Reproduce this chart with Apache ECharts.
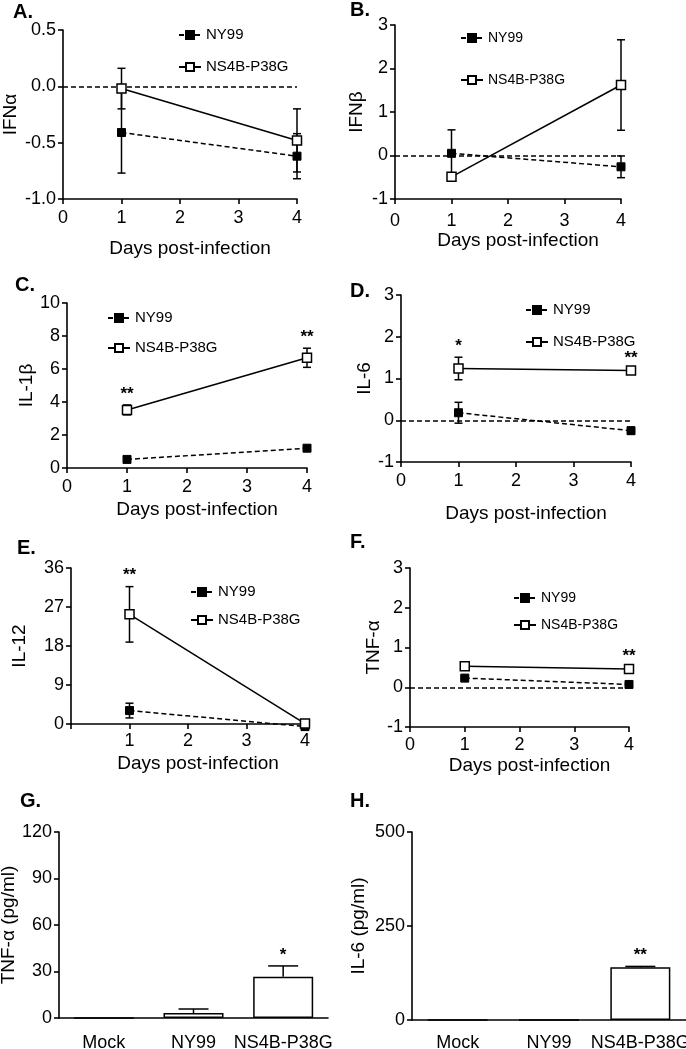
<!DOCTYPE html>
<html>
<head>
<meta charset="utf-8">
<script src="https://cdn.jsdelivr.net/npm/echarts@6/dist/echarts.min.js"></script>
<style>
html,body{margin:0;padding:0;background:#fff;}
#chart{width:686px;height:1049px;}
</style>
</head>
<body>
<div id="chart"></div>
<script>
// ---------- data ----------
const days = [1, 4];

const A_NY99 = [-0.41, -0.62];   const A_NY99_err = [0.36, 0.20];
const A_NS4B = [-0.02, -0.48];   const A_NS4B_err = [0.18, 0.28];

const B_NY99 = [0.05, -0.26];    const B_NY99_err = [0.54, 0.25];
const B_NS4B = [-0.49, 1.62];    const B_NS4B_err = [0.05, 1.04];

const C_NY99 = [0.52, 1.20];     const C_NY99_err = [0.05, 0.08];
const C_NS4B = [3.52, 6.68];     const C_NS4B_err = [0.30, 0.58];
const C_sig = ['**', '**'];

const D_NY99 = [0.18, -0.25];    const D_NY99_err = [0.25, 0.08];
const D_NS4B = [1.24, 1.19];     const D_NS4B_err = [0.27, 0.04];
const D_sig = ['*', '**'];

const E_NY99 = [3.1, -0.6];      const E_NY99_err = [1.7, 0.3];
const E_NS4B = [25.3, 0.1];      const E_NS4B_err = [6.4, 0.2];
const E_sig = ['**', ''];

const F_NY99 = [0.23, 0.07];     const F_NY99_err = [0.02, 0.02];
const F_NS4B = [0.53, 0.46];     const F_NS4B_err = [0.02, 0.03];
const F_sig = ['', '**'];

const barCats = ['Mock', 'NY99', 'NS4B-P38G'];
const G_vals = [0, 3.2, 26.6];   const G_err = [0, 2.6, 7.0];   const G_sig = ['', '', '*'];
const H_vals = [0, 0, 140];      const H_err = [0, 0, 2.5];     const H_sig = ['', '', '**'];

const panelLetters = ['A.', 'B.', 'C.', 'D.', 'E.', 'F.', 'G.', 'H.'];

// ---------- helpers ----------
const FONT = "'Liberation Sans', Arial, sans-serif";
const BLACK = '#000';
const axisLineStyle = { color: BLACK, width: 1.6 };

function errRender(capHalf, sig, upOnly) {
  return function (params, api) {
    const x = api.value(0), y = api.value(1), e = api.value(2);
    const c = api.coord([x, y]);
    const t = api.coord([x, y + e]);
    const b = upOnly ? c : api.coord([x, y - e]);
    const st = { stroke: BLACK, lineWidth: 1.5 };
    const children = [];
    if (e > 0) {
      children.push({ type: 'line', shape: { x1: t[0], y1: t[1], x2: b[0], y2: b[1] }, style: st });
      children.push({ type: 'line', shape: { x1: t[0] - capHalf, y1: t[1], x2: t[0] + capHalf, y2: t[1] }, style: st });
      if (!upOnly) children.push({ type: 'line', shape: { x1: b[0] - capHalf, y1: b[1], x2: b[0] + capHalf, y2: b[1] }, style: st });
    }
    const s = sig ? sig[params.dataIndex] : '';
    if (s) {
      children.push({ type: 'text', style: { text: s, x: c[0], y: t[1] - 11, align: 'center', verticalAlign: 'middle',
        font: 'bold 17px ' + FONT, fill: BLACK } });
    }
    return { type: 'group', children: children };
  };
}

function zip3(xs, ys, es) { return xs.map((x, i) => [x, ys[i], es[i]]); }

const grids = [], xAxes = [], yAxes = [], series = [], legends = [], graphics = [];

function makeGrid(g) {
  return { left: g[0], top: g[1], width: g[2], height: g[3], containLabel: false, outerBoundsMode: 'none' };
}

function addLinePanel(cfg) {
  const gi = grids.length;
  grids.push(makeGrid(cfg.grid));
  xAxes.push({
    gridIndex: gi, type: 'value', min: 0, max: 4, interval: 1,
    axisLine: { show: true, onZero: false, lineStyle: axisLineStyle },
    axisTick: { show: true, length: 5, lineStyle: axisLineStyle },
    axisLabel: { fontSize: 18, color: BLACK, fontFamily: FONT, margin: cfg.xLabMargin,
      formatter: cfg.hideX0 ? (v => v === 0 ? '' : String(v)) : (v => String(v)) },
    splitLine: { show: false },
    name: 'Days post-infection', nameLocation: 'middle', nameGap: cfg.xNameGap,
    nameTextStyle: { fontSize: 19, color: BLACK, fontFamily: FONT, padding: [0, 0, 0, 20] }
  });
  yAxes.push({
    gridIndex: gi, type: 'value', min: cfg.y[0], max: cfg.y[1], interval: cfg.y[2],
    axisLine: { show: true, lineStyle: axisLineStyle },
    axisTick: { show: true, length: 5, lineStyle: axisLineStyle },
    axisLabel: { fontSize: 18, color: BLACK, fontFamily: FONT, margin: 7, formatter: cfg.yFmt || (v => String(v)) },
    splitLine: { show: false },
    name: cfg.yName, nameLocation: 'middle', nameGap: cfg.yNameGap,
    nameTextStyle: { fontSize: 19, color: BLACK, fontFamily: FONT }
  });

  series.push({ type: 'custom', name: 'errA' + gi, xAxisIndex: gi, yAxisIndex: gi, z: 3, clip: false,
    renderItem: errRender(4, null, false), data: zip3(days, cfg.ny, cfg.nyErr), silent: true });
  series.push({ type: 'custom', name: 'errB' + gi, xAxisIndex: gi, yAxisIndex: gi, z: 3, clip: false,
    renderItem: errRender(4, cfg.sig, false), data: zip3(days, cfg.ns, cfg.nsErr), silent: true });
  const nySeries = {
    type: 'line', name: 'NY99', xAxisIndex: gi, yAxisIndex: gi, z: 4, clip: false,
    data: days.map((d, i) => [d, cfg.ny[i]]),
    symbol: 'rect', symbolSize: 8, showAllSymbol: true,
    itemStyle: { color: BLACK, borderColor: BLACK, borderWidth: 1 },
    lineStyle: { color: BLACK, width: 1.5, type: [5, 3] },
    emphasis: { disabled: true }, silent: true
  };
  if (cfg.zeroLine) {
    nySeries.markLine = { silent: true, symbol: ['none', 'none'], label: { show: false },
      lineStyle: { type: [5, 3], color: BLACK, width: 1.5 }, data: [{ yAxis: 0 }], z: 2 };
  }
  series.push(nySeries);
  series.push({
    type: 'line', name: 'NS4B-P38G', xAxisIndex: gi, yAxisIndex: gi, z: 5, clip: false,
    data: days.map((d, i) => [d, cfg.ns[i]]),
    symbol: 'rect', symbolSize: 9, showAllSymbol: true,
    itemStyle: { color: '#fff', borderColor: BLACK, borderWidth: 1.5 },
    lineStyle: { color: BLACK, width: 1.5, type: 'solid' },
    emphasis: { disabled: true }, silent: true
  });
  legends.push({
    data: ['NY99', 'NS4B-P38G'], orient: 'vertical', left: cfg.leg[0], top: cfg.leg[1], itemGap: cfg.leg[2],
    itemWidth: 22, itemHeight: 10, padding: 0, selectedMode: false,
    textStyle: { fontSize: cfg.leg[3], color: BLACK, fontFamily: FONT, lineHeight: 16 }
  });
}

function addBarPanel(cfg) {
  const gi = grids.length;
  grids.push(makeGrid(cfg.grid));
  xAxes.push({
    gridIndex: gi, type: 'category', data: barCats,
    axisLine: { show: true, lineStyle: axisLineStyle },
    axisTick: { show: false },
    axisLabel: { fontSize: 18, color: BLACK, fontFamily: FONT, margin: cfg.labMargin, interval: 0 },
    splitLine: { show: false }
  });
  yAxes.push({
    gridIndex: gi, type: 'value', min: cfg.y[0], max: cfg.y[1], interval: cfg.y[2],
    axisLine: { show: true, lineStyle: axisLineStyle },
    axisTick: { show: true, length: 5, lineStyle: axisLineStyle },
    axisLabel: { fontSize: 18, color: BLACK, fontFamily: FONT, margin: 7 },
    splitLine: { show: false },
    name: cfg.yName, nameLocation: 'middle', nameGap: cfg.yNameGap,
    nameTextStyle: { fontSize: 19, color: BLACK, fontFamily: FONT }
  });
  series.push({
    type: 'bar', name: 'bar' + gi, xAxisIndex: gi, yAxisIndex: gi, barWidth: 60, z: 2,
    data: cfg.vals, itemStyle: { color: '#fff', borderColor: BLACK, borderWidth: 1.5 },
    emphasis: { disabled: true }, silent: true
  });
  series.push({
    type: 'custom', name: 'barErr' + gi, xAxisIndex: gi, yAxisIndex: gi, z: 3, silent: true,
    renderItem: errRender(15, cfg.sig, true),
    data: cfg.vals.map((v, i) => [i, v, cfg.err[i]])
  });
}

// ---------- panels ----------
addLinePanel({ grid: [63, 30, 234, 169], y: [-1, 0.5, 0.5], yFmt: v => v.toFixed(1), yName: 'IFNα', yNameGap: 43,
  xLabMargin: 10, xNameGap: 40, ny: A_NY99, nyErr: A_NY99_err, ns: A_NS4B, nsErr: A_NS4B_err, zeroLine: true,
  leg: [178, 27, 16, 15] });
addLinePanel({ grid: [395, 25, 226, 174], y: [-1, 3, 1], yName: 'IFNβ', yNameGap: 29,
  xLabMargin: 13, xNameGap: 30, ny: B_NY99, nyErr: B_NY99_err, ns: B_NS4B, nsErr: B_NS4B_err, zeroLine: true,
  leg: [460, 30, 26, 14] });
addLinePanel({ grid: [67, 303, 240, 165], y: [0, 10, 2], yName: 'IL-1β', yNameGap: 31,
  xLabMargin: 10, xNameGap: 32, ny: C_NY99, nyErr: C_NY99_err, ns: C_NS4B, nsErr: C_NS4B_err, sig: C_sig, zeroLine: false,
  leg: [107, 310, 14, 15] });
addLinePanel({ grid: [401, 295, 230, 167], y: [-1, 3, 1], yName: 'IL-6', yNameGap: 23,
  xLabMargin: 10, xNameGap: 42, ny: D_NY99, nyErr: D_NY99_err, ns: D_NS4B, nsErr: D_NS4B_err, sig: D_sig, zeroLine: true,
  leg: [525, 302, 16, 15] });
addLinePanel({ grid: [71, 568, 234, 156], y: [0, 36, 9], yName: 'IL-12', yNameGap: 42, hideX0: true,
  xLabMargin: 8, xNameGap: 30, ny: E_NY99, nyErr: E_NY99_err, ns: E_NS4B, nsErr: E_NS4B_err, sig: E_sig, zeroLine: false,
  leg: [190, 584, 12, 15] });
addLinePanel({ grid: [410, 568, 219, 159], y: [-1, 3, 1], yName: 'TNF-α', yNameGap: 27,
  xLabMargin: 9, xNameGap: 29, ny: F_NY99, nyErr: F_NY99_err, ns: F_NS4B, nsErr: F_NS4B_err, sig: F_sig, zeroLine: true,
  leg: [513, 590, 11, 14] });
addBarPanel({ grid: [59, 832, 269, 186], y: [0, 120, 30], yName: 'TNF-α (pg/ml)', yNameGap: 36, labMargin: 16,
  vals: G_vals, err: G_err, sig: G_sig });
addBarPanel({ grid: [412, 832, 274, 188], y: [0, 500, 250], yName: 'IL-6 (pg/ml)', yNameGap: 44, labMargin: 14,
  vals: H_vals, err: H_err, sig: H_sig });

// panel letters
const letterPos = [[13, 12], [350, 10], [15, 285], [350, 291], [17, 548], [350, 542], [20, 801], [350, 801]];
panelLetters.forEach((t, i) => {
  graphics.push({ type: 'text', left: letterPos[i][0], top: letterPos[i][1] - 10,
    style: { text: t, font: 'bold 20px ' + FONT, fill: BLACK } });
});

const chart = echarts.init(document.getElementById('chart'), null, { renderer: 'canvas' });
chart.setOption({
  animation: false,
  backgroundColor: '#fff',
  textStyle: { fontFamily: FONT },
  grid: grids, xAxis: xAxes, yAxis: yAxes, series: series, legend: legends, graphic: graphics
});
</script>
</body>
</html>
